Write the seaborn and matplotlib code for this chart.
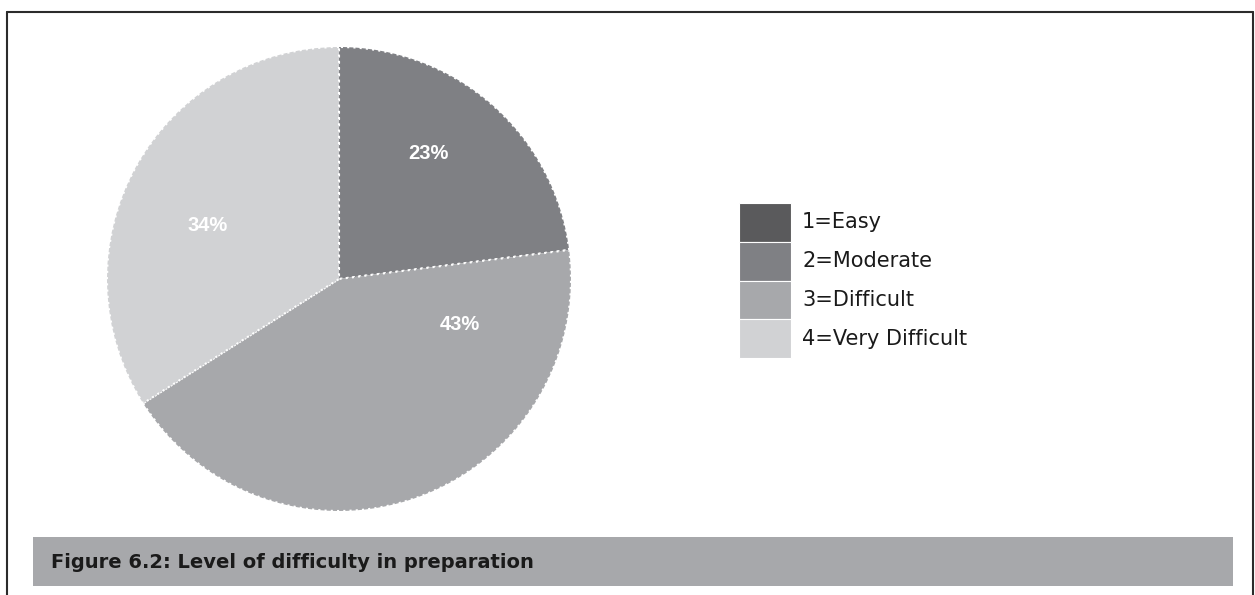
import matplotlib
matplotlib.use("Agg")
import matplotlib.pyplot as plt
from matplotlib.patches import Rectangle
from matplotlib.lines import Line2D
import seaborn as sns

# ---- data ----
categories = ["1=Easy", "2=Moderate", "3=Difficult", "4=Very Difficult"]
percents = [0, 23, 43, 34]
colors = ["#5a5a5c", "#7f8084", "#a7a8ab", "#d1d2d4"]
title = "Figure 6.2: Level of difficulty in preparation"

# label placement (pie data units), Excel "best fit" style
label_pos = {"2=Moderate": (0.386, 0.541), "3=Difficult": (0.522, -0.194),
             "4=Very Difficult": (-0.565, 0.231)}

sns.set_theme(style="white")
plt.rcParams['font.family'] = ['DejaVu Sans']

W, H = 1255, 595
fig = plt.figure(figsize=(W / 100, H / 100), dpi=100)
fig.patch.set_facecolor("white")

def fx(px):
    return px / W

def fy(py):
    return 1 - py / H

# pie axes: center (339, 279), radius 232
cx, cy, r = 339, 279, 232
ax = fig.add_axes([fx(cx - r), fy(cy + r), 2 * r / W, 2 * r / H])
wedges, _ = ax.pie(percents, colors=colors, startangle=90, counterclock=False,
                   radius=1,
                   wedgeprops=dict(edgecolor="white", linewidth=1.5,
                                   linestyle=(0, (1, 2))))
ax.set_xlim(-1, 1)
ax.set_ylim(-1, 1)
ax.set_aspect("equal")
ax.axis("off")

for cat, p in zip(categories, percents):
    if p == 0:
        continue
    x, y = label_pos[cat]
    ax.text(x, y, f"{p}%", color="white", fontsize=14.5, fontweight="bold",
            family=["Liberation Sans", "DejaVu Sans"],
            ha="center", va="center")

# legend (manual, stacked swatches)
lx0, lx1, ly0, lh = 739, 791, 203, 38.75
for i, (cat, c) in enumerate(zip(categories, colors)):
    top = ly0 + i * lh
    fig.add_artist(Rectangle((fx(lx0), fy(top + lh)), fx(lx1) - fx(lx0), lh / H,
                             facecolor=c, edgecolor="white", linewidth=0.8,
                             transform=fig.transFigure))
    fig.text(fx(802), fy(top + lh / 2), cat, fontsize=15, color="#1a1a1a",
             ha="left", va="center")

# frame lines
frame_col = "#2b2b2b"
fig.add_artist(Line2D([fx(7), fx(1253)], [fy(12), fy(12)], color=frame_col,
                      lw=1.5, transform=fig.transFigure))
fig.add_artist(Line2D([fx(7), fx(7)], [fy(12), 0], color=frame_col,
                      lw=1.5, transform=fig.transFigure))
fig.add_artist(Line2D([fx(1253), fx(1253)], [fy(12), 0], color=frame_col,
                      lw=1.5, transform=fig.transFigure))

# caption bar
fig.add_artist(Rectangle((fx(33), fy(586)), fx(1233) - fx(33), (586 - 537) / H,
                         facecolor="#a7a8ab", edgecolor="none",
                         transform=fig.transFigure))
fig.text(fx(51), fy(562), title, fontsize=14, fontweight="bold",
         color="#1a1a1a", ha="left", va="center")

fig.savefig("out.png", dpi=100)
